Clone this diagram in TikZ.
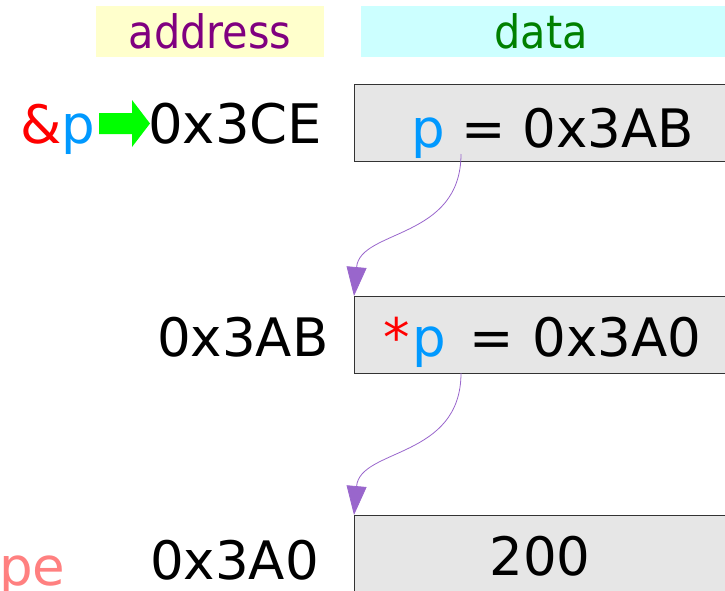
\documentclass[tikz,border=0pt]{standalone}
\usepackage{fontspec}
\setmainfont{DejaVu Sans}
\newfontfamily\condfont{DejaVu Sans Condensed}
\usetikzlibrary{arrows.meta}
\definecolor{ptrblue}{RGB}{0,153,255}
\definecolor{ampred}{RGB}{255,0,0}
\definecolor{hdrpurple}{RGB}{128,0,128}
\definecolor{hdrgreen}{RGB}{0,128,0}
\definecolor{hdryellow}{RGB}{255,255,204}
\definecolor{hdrcyan}{RGB}{204,255,255}
\definecolor{cellgray}{RGB}{230,230,230}
\definecolor{linkpurple}{RGB}{153,102,204}
\definecolor{salmon}{RGB}{255,128,128}
\definecolor{arrowgreen}{RGB}{0,255,0}
\begin{document}
\begin{tikzpicture}[x=1pt,y=-1pt,
  big/.style={font=\fontsize{53}{60}\selectfont, inner sep=0pt, anchor=base west},
  hdrtext/.style={font=\condfont\fontsize{46}{52}\selectfont, inner sep=0pt, anchor=base},
  hdrbox/.style={anchor=north west, inner sep=0pt, minimum height=51pt},
  cell/.style={draw=black!80, line width=1pt, fill=cellgray, anchor=north west,
    minimum width=420pt, minimum height=77pt, inner sep=0pt},
  link/.style={draw=linkpurple, line width=0.8pt,
    -{Triangle[length=29pt,width=20pt,fill=linkpurple]}}]
\useasboundingbox (0,0) rectangle (725,590);
\clip (0,0) rectangle (725,590);

% headers
\node[hdrbox, fill=hdryellow, minimum width=228pt] (hA) at (96,6) {};
\node[hdrbox, fill=hdrcyan, minimum width=380pt] (hD) at (361,6) {};
\node[hdrtext, text=hdrpurple] (tA) at (210,48) {address};
\node[hdrtext, text=hdrgreen] (tD) at (541,48) {data};

% cells
\node[cell] (b1) at (354,84) {};
\node[cell] (b2) at (354,296) {};
\node[cell] (b3) at (354,515) {};

% row 1
\node[big] (refp) at (20,143) {\textcolor{ampred}{\&}\textcolor{ptrblue}{p}};
\fill[arrowgreen] (99,113) -- (132,113) -- (132,100) -- (150,123.5)
  -- (132,147) -- (132,134) -- (99,134) -- cycle;
\node[big, font=\fontsize{54.5}{60}\selectfont] (a1) at (148,143) {0x3CE};
\node[big] (d1) at (411,147) {\textcolor{ptrblue}{p} = 0x3AB};

% row 2
\node[big] (a2) at (157,356) {0x3AB};
\node[big] (d2) at (383,356) {\textcolor{ampred}{*}\kern3pt\textcolor{ptrblue}{p}\hskip 23pt=\hskip 19pt0x3A0};

% row 3
\node[big] (a3) at (150,579) {0x3A0};
\node[big, anchor=base] (d3) at (540,575) {200};
\node[big, text=salmon] (pe) at (-1,585) {pe};

% links
\coordinate (s1) at (461,154);
\coordinate (s2) at (461,373);
\draw[link] (s1) .. controls +(0,86) and +(6,-67) .. (b2.north west);
\draw[link] (s2) .. controls +(0,86) and +(6,-67) .. (b3.north west);
\end{tikzpicture}
\end{document}
